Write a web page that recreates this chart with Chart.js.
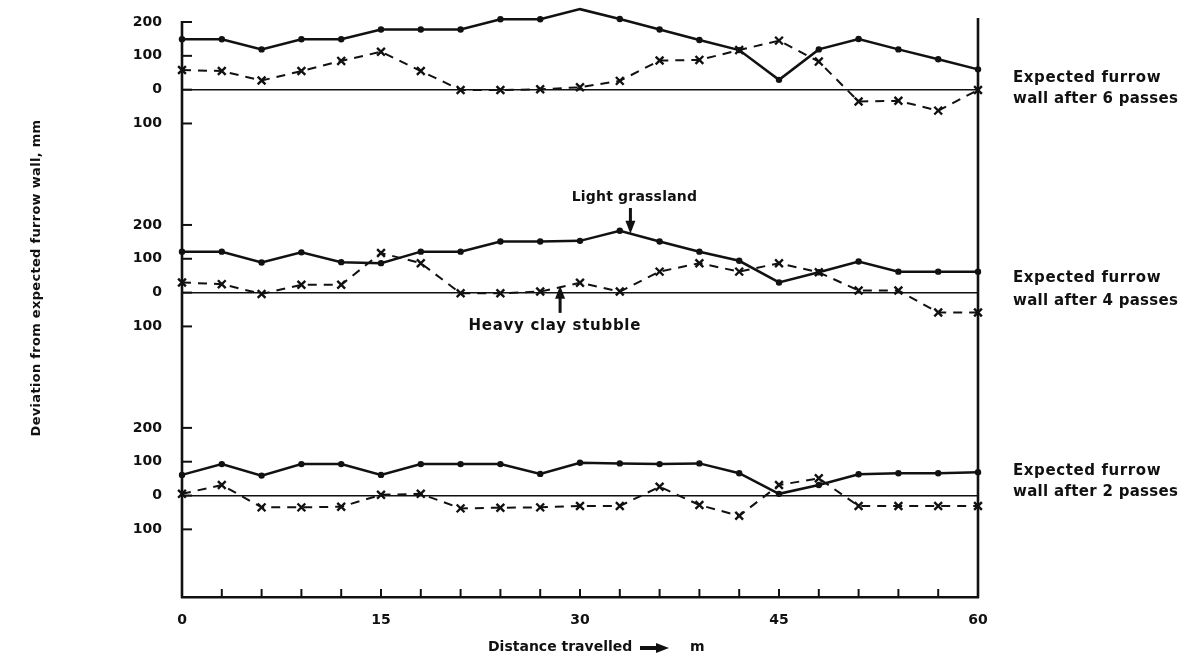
<!DOCTYPE html>
<html>
<head>
<meta charset="utf-8">
<title>Deviation from expected furrow wall</title>
<script src="https://cdn.jsdelivr.net/npm/chart.js@4/dist/chart.umd.min.js"></script>
<style>
  html, body { margin: 0; padding: 0; background: #fff; }
  #wrap { width: 1193px; height: 658px; }
</style>
</head>
<body>
<div id="wrap"><canvas id="furrowChart" width="1193" height="658"></canvas></div>
<script>
// Distance travelled (m) at each reading
const distance = [0, 3, 6, 9, 12, 15, 18, 21, 24, 27, 30, 33, 36, 39, 42, 45, 48, 51, 54, 57, 60];

// Deviation from expected furrow wall (mm), solid = dots, dashed = crosses
const sixSolid   = [149, 149, 119, 149, 149, 178, 178, 178, 208, 208, 238, 209, 178, 147, 117, 29, 119, 150, 119, 90, 60];
const sixDashed  = [58, 55, 27, 55, 85, 112, 55, -1, -1, 1, 7, 26, 86, 88, 117, 145, 83, -35, -33, -62, -1];
const fourSolid  = [121, 121, 89, 119, 90, 87, 121, 121, 151, 151, 153, 183, 151, 121, 94, 30, 60, 92, 62, 62, 62];
const fourDashed = [30, 25, -4, 23, 23, 117, 87, -2, -2, 3, 29, 3, 62, 87, 62, 87, 60, 6, 6, -59, -59];
const twoSolid   = [61, 93, 59, 93, 93, 61, 93, 93, 93, 64, 97, 95, 93, 95, 66, 5, 31, 63, 66, 66, 69];
const twoDashed  = [5, 31, -35, -35, -33, 2, 5, -38, -36, -35, -31, -31, 26, -28, -60, 31, 51, -31, -31, -31, -31];

// Tick labels
const yTickValues = [-100, 0, 100, 200];
const xLabelValues = [0, 15, 30, 45, 60];

// Text
const yTitle = 'Deviation from expected furrow wall, mm';
const xTitle = 'Distance travelled';
const xUnit = 'm';
const panelNotes = {
    y6: ['Expected furrow', 'wall after 6 passes'],
    y4: ['Expected furrow', 'wall after 4 passes'],
    y2: ['Expected furrow', 'wall after 2 passes']
};
const grassNote = 'Light grassland';
const clayNote = 'Heavy clay stubble';

const ink = '#111';
const FONT = 'DejaVu Sans';

function pairs(values) {
    return distance.map((d, i) => ({ x: d, y: values[i] }));
}

function solidSet(values, axis) {
    return {
        data: pairs(values), yAxisID: axis,
        borderColor: ink, backgroundColor: ink,
        borderWidth: 2.5, pointRadius: 3.2, pointBorderWidth: 0,
        pointStyle: 'circle', tension: 0, clip: false
    };
}

function dashedSet(values, axis) {
    return {
        data: pairs(values), yAxisID: axis,
        borderColor: ink, backgroundColor: ink,
        borderWidth: 2, borderDash: [9, 7],
        pointStyle: 'crossRot', pointRadius: 5.5, pointBorderWidth: 2.4,
        tension: 0, clip: false
    };
}

function panelAxis(min, max) {
    return {
        type: 'linear', position: 'left',
        stack: 'panels', stackWeight: max - min,
        min: min, max: max,
        afterBuildTicks: s => { s.ticks = yTickValues.map(v => ({ value: v })); },
        afterFit: s => {
            s.width = 182;
            // no extra room for half label heights, the frame is placed by layout padding
            s.paddingTop = 0;
            s.paddingBottom = 0;
        },
        grid: {
            drawTicks: false,
            lineWidth: 1.6,
            color: c => (c.tick && c.tick.value === 0) ? ink : 'rgba(0,0,0,0)'
        },
        border: { display: false },
        ticks: {
            padding: 20, color: ink,
            font: { family: FONT, weight: 'bold', size: 14 },
            callback: v => String(Math.abs(v))
        }
    };
}

function line(ctx, x1, y1, x2, y2) {
    ctx.beginPath();
    ctx.moveTo(x1, y1);
    ctx.lineTo(x2, y2);
    ctx.stroke();
}

function text(ctx, str, x, y, size, align, spacing) {
    ctx.font = 'bold ' + size + 'px "' + FONT + '"';
    ctx.textAlign = align;
    ctx.textBaseline = 'middle';
    ctx.letterSpacing = (spacing || 0) + 'px';
    ctx.fillText(str, x, y);
    ctx.letterSpacing = '0px';
}

// vertical arrow, tip at (x, tipY), tail at tailY
function arrow(ctx, x, tailY, tipY) {
    const dir = tipY > tailY ? 1 : -1;
    ctx.lineWidth = 3;
    line(ctx, x, tailY, x, tipY - dir * 10);
    ctx.beginPath();
    ctx.moveTo(x, tipY);
    ctx.lineTo(x - 5, tipY - dir * 13);
    ctx.lineTo(x + 5, tipY - dir * 13);
    ctx.closePath();
    ctx.fill();
}

const decorations = {
    id: 'decorations',
    afterDraw(chart) {
        const { ctx, chartArea: a, scales } = chart;
        const xs = scales.x;
        ctx.save();
        ctx.strokeStyle = ink;
        ctx.fillStyle = ink;

        // frame lines: continuous left axis and right edge
        ctx.lineWidth = 2.6;
        line(ctx, a.left, a.top, a.left, a.bottom + 1);
        line(ctx, a.right, a.top - 3, a.right, a.bottom + 1);

        // inward tick marks on the panel axes
        ctx.lineWidth = 2;
        ['y2', 'y4', 'y6'].forEach(id => {
            const s = scales[id];
            s.ticks.forEach(t => {
                const y = s.getPixelForValue(t.value);
                line(ctx, a.left, y, a.left + 10, y);
            });
        });

        // inward tick marks on the distance axis
        xs.ticks.forEach(t => {
            if (t.value > 0 && t.value < 60) {
                const x = xs.getPixelForValue(t.value);
                line(ctx, x, a.bottom, x, a.bottom - 8);
            }
        });

        // notes to the right of each panel
        [['y6', -12, 9], ['y4', -14, 9], ['y2', -24, -3]].forEach(([id, d1, d2]) => {
            const y0 = scales[id].getPixelForValue(0);
            text(ctx, panelNotes[id][0], a.right + 35, y0 + d1, 15, 'left', 0.6);
            text(ctx, panelNotes[id][1], a.right + 35, y0 + d2, 15, 'left', 0.3);
        });

        // annotations in the 4-pass panel
        const y4 = scales.y4;
        const gx = xs.getPixelForValue(33.8);
        text(ctx, grassNote, gx + 4, y4.getPixelForValue(283), 14, 'center', 0.2);
        arrow(ctx, gx, y4.getPixelForValue(250), y4.getPixelForValue(174));

        const cx = xs.getPixelForValue(28.5);
        text(ctx, clayNote, xs.getPixelForValue(28.1), y4.getPixelForValue(-98), 15, 'center', 0.7);
        arrow(ctx, cx, y4.getPixelForValue(-60), y4.getPixelForValue(20));

        // y axis title
        ctx.save();
        ctx.translate(37, 278);
        ctx.rotate(-Math.PI / 2);
        text(ctx, yTitle, 0, 0, 13, 'center', 0.3);
        ctx.restore();

        // x axis title with arrow
        const ty = 647;
        text(ctx, xTitle, 488, ty, 14, 'left', 0);
        ctx.lineWidth = 4;
        line(ctx, 640, ty + 1, 658, ty + 1);
        ctx.beginPath();
        ctx.moveTo(669, ty + 1);
        ctx.lineTo(656, ty - 4);
        ctx.lineTo(656, ty + 6);
        ctx.closePath();
        ctx.fill();
        text(ctx, xUnit, 690, ty, 14, 'left', 0);

        ctx.restore();
    }
};

new Chart(document.getElementById('furrowChart'), {
    type: 'line',
    data: {
        datasets: [
            solidSet(twoSolid, 'y2'), dashedSet(twoDashed, 'y2'),
            solidSet(fourSolid, 'y4'), dashedSet(fourDashed, 'y4'),
            solidSet(sixSolid, 'y6'), dashedSet(sixDashed, 'y6')
        ]
    },
    options: {
        responsive: false,
        animation: false,
        events: [],
        layout: { padding: { top: 21, right: 215, bottom: 0, left: 0 } },
        plugins: {
            legend: { display: false },
            tooltip: { enabled: false }
        },
        scales: {
            x: {
                type: 'linear', min: 0, max: 60,
                afterFit: s => { s.height = 61; s.paddingLeft = 0; s.paddingRight = 0; },
                grid: { display: false, drawTicks: false },
                border: { display: true, color: ink, width: 2.6 },
                ticks: {
                    stepSize: 3, autoSkip: false, maxRotation: 0,
                    padding: 15, color: ink,
                    font: { family: FONT, weight: 'bold', size: 14 },
                    callback: v => xLabelValues.includes(v) ? String(v) : ''
                }
            },
            // bottom panel first, top panel last (stack is filled top-down in reverse order)
            y2: panelAxis(-300, 300),
            y4: panelAxis(-300, 300),
            y6: panelAxis(-300, 203)
        }
    },
    plugins: [decorations]
});
</script>
</body>
</html>
